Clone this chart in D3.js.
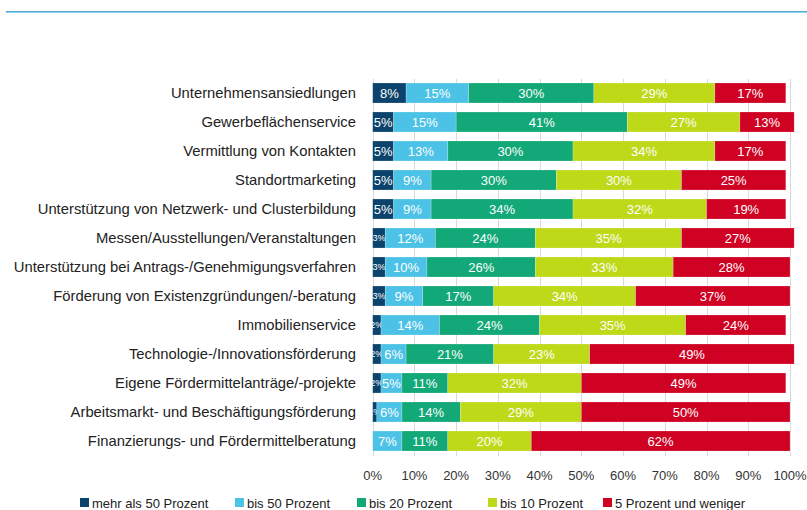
<!DOCTYPE html>
<html>
<head>
<meta charset="utf-8">
<script src="https://cdn.jsdelivr.net/npm/d3@7"></script>
<style>
  body { margin: 0; background: #fff; }
  svg { display: block; font-family: "Liberation Sans", Arial, sans-serif; }
</style>
</head>
<body>
<script>
// chart size
var w = 807, h = 510;

// categories (top to bottom)
var categories = [
    "Unternehmensansiedlungen",
    "Gewerbeflächenservice",
    "Vermittlung von Kontakten",
    "Standortmarketing",
    "Unterstützung von Netzwerk- und Clusterbildung",
    "Messen/Ausstellungen/Veranstaltungen",
    "Unterstützung bei Antrags-/Genehmigungsverfahren",
    "Förderung von Existenzgründungen/-beratung",
    "Immobilienservice",
    "Technologie-/Innovationsförderung",
    "Eigene Fördermittelanträge/-projekte",
    "Arbeitsmarkt- und Beschäftigungsförderung",
    "Finanzierungs- und Fördermittelberatung"
];
// series names (legend)
var seriesNames = ["mehr als 50 Prozent", "bis 50 Prozent", "bis 20 Prozent", "bis 10 Prozent", "5 Prozent und weniger"];
// series values, one per category
var mehr50 = [8, 5, 5, 5, 5, 3, 3, 3, 2, 2, 2, 1, 0];
var bis50  = [15, 15, 13, 9, 9, 12, 10, 9, 14, 6, 5, 6, 7];
var bis20  = [30, 41, 30, 30, 34, 24, 26, 17, 24, 21, 11, 14, 11];
var bis10  = [29, 27, 34, 30, 32, 35, 33, 34, 35, 23, 32, 29, 20];
var bis5   = [17, 13, 17, 25, 19, 27, 28, 37, 24, 49, 49, 50, 62];
// x tick values
var ticks = [0, 10, 20, 30, 40, 50, 60, 70, 80, 90, 100];

var colors = ["#0c436c", "#4bc2e6", "#13a878", "#bdd918", "#cf0223"];
var legendX = [80, 235, 357, 488, 603]; // legend item positions
var seriesValues = [mehr50, bis50, bis20, bis10, bis5];

// rows for the stack
var rows = categories.map(function(c, i){
    var r = { cat: c };
    seriesNames.forEach(function(s, j){ r[s] = seriesValues[j][i]; });
    return r;
});

window.onload = function(){
    var svg = d3.select("body").append("svg")
        .attr("width", w)
        .attr("height", h);

    // thin two-tone line at the top
    svg.append("line")
        .attr("x1", 6).attr("x2", w)
        .attr("y1", 11.5).attr("y2", 11.5)
        .style("stroke", "#4fa9d3")
        .style("stroke-width", 1);
    svg.append("line")
        .attr("x1", 6).attr("x2", w)
        .attr("y1", 12.5).attr("y2", 12.5)
        .style("stroke", "#8fd2ee")
        .style("stroke-width", 1);

    var x = d3.scaleLinear()
        .domain([0, 100])
        .range([372.7, 790]);

    var y = d3.scaleBand()
        .domain(categories)
        .range([78.5, 455.5])
        .paddingInner(0.31)
        .paddingOuter(0.155);

    // gridlines
    svg.append("g").attr("class", "grid")
        .selectAll("line")
        .data(ticks)
        .enter().append("line")
        .attr("x1", function(d){ return Math.round(x(d)) + 0.5; })
        .attr("x2", function(d){ return Math.round(x(d)) + 0.5; })
        .attr("y1", 79)
        .attr("y2", 456)
        .style("stroke", "#d9d9d9")
        .style("stroke-width", 1);

    var stack = d3.stack().keys(seriesNames);
    var series = stack(rows);

    var groups = svg.selectAll(".series")
        .data(series)
        .enter().append("g")
        .attr("class", "series")
        .style("fill", function(d, i){ return colors[i]; });

    groups.selectAll("rect")
        .data(function(d){ return d.filter(function(p){ return p[1] > p[0]; }); })
        .enter().append("rect")
        .attr("x", function(d){ return x(d[0]); })
        .attr("width", function(d){ return x(d[1]) - x(d[0]); })
        .attr("y", function(d){ return y(d.data.cat); })
        .attr("height", y.bandwidth())
        .style("stroke", "rgba(255,255,255,0.35)")
        .style("stroke-width", 0.6);

    // value labels inside the segments
    groups.selectAll("text")
        .data(function(d){ return d.filter(function(p){ return p[1] > p[0]; }); })
        .enter().append("text")
        .attr("x", function(d){ return (x(d[0]) + x(d[1])) / 2; })
        .attr("y", function(d){ return y(d.data.cat) + y.bandwidth() / 2; })
        .attr("dy", "0.36em")
        .attr("text-anchor", "middle")
        .style("fill", "#fff")
        .style("font-size", function(d){ return (d[1] - d[0]) < 4 ? "9px" : "13px"; })
        .text(function(d){ return (d[1] - d[0]) + "%"; });

    // category labels
    svg.append("g").selectAll("text")
        .data(categories)
        .enter().append("text")
        .attr("x", 356)
        .attr("y", function(d){ return y(d) + y.bandwidth() / 2; })
        .attr("dy", "0.36em")
        .attr("text-anchor", "end")
        .style("font-size", "14.8px")
        .style("fill", "#222")
        .text(function(d){ return d; });

    // x axis labels
    svg.append("g").selectAll("text")
        .data(ticks)
        .enter().append("text")
        .attr("x", function(d){ return x(d); })
        .attr("y", 475)
        .attr("dy", "0.36em")
        .attr("text-anchor", "middle")
        .style("font-size", "13px")
        .style("fill", "#333")
        .text(function(d){ return d + "%"; });

    // legend
    var legend = svg.append("g").attr("class", "legend");
    seriesNames.forEach(function(s, i){
        legend.append("rect")
            .attr("x", legendX[i]).attr("y", 498)
            .attr("width", 9).attr("height", 9)
            .style("fill", colors[i]);
        legend.append("text")
            .attr("x", legendX[i] + 12)
            .attr("y", 503)
            .attr("dy", "0.36em")
            .style("font-size", "13px")
            .style("fill", "#222")
            .text(s);
    });
};
</script>
</body>
</html>
